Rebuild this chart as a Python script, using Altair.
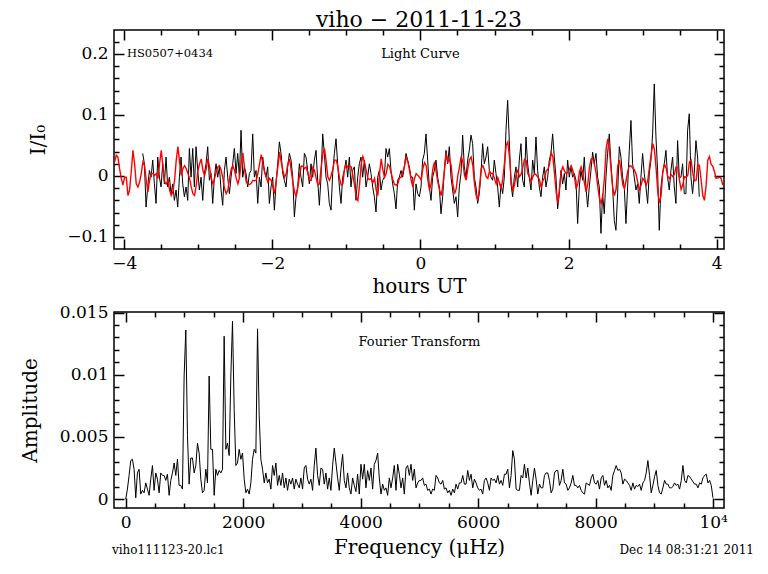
import altair as alt
import pandas as pd

FONT = "DejaVu Serif"
TITLE = "viho  \u2212  2011-11-23"
FOOTER_LEFT = "viho111123-20.lc1"
FOOTER_RIGHT = "Dec 14 08:31:21 2011"

# ---- light curve (hours UT, values in units of 0.001) ----
LC_DT = 0.0225
BLACK_T0 = -3.75
BLACK_MILLI = [
    37, 20, -51, -18, 9, -2, 26, -13, -45, 31, -2, -18, 20, -13, 31, -18, -2, -29, -13, -40,
    -23, -51, -2, 31, -13, -34, -18, -40, 45, -2, 45, -18, 48, 9, -23, -2, -40, 4, 20, 48,
    -7, 4, -45, -2, 20, -2, 15, -23, -48, 9, 31, -2, -29, -2, 20, 45, 4, 37, -2, 75,
    -2, 15, 4, -18, 4, 9, 69, -2, 9, -45, -2, -18, 31, 9, -2, 15, -45,
    -18, -2, -56, -13, 20, 56, 37, 4, -7, -18, 15, 37, 26, -2, -67, -34, -18, 20, -2, -18,
    37, 31, 9, -13, 20, -2, 26, 42, -7, -48, -2, 69, 37, -2, -13, -45, -56, 4, 37, 61,
    20, -18, -45, -2, 9, 26, -2, 31, -18, 9, 15, -40, -2, 20, 31, -2, 26, -18, -2, 20,
    4, -18, -34, -59, -2, 9, -23, -7, -2, 45, 31, 45, 9, -13, -29, -54, -7, -2, 9, -2,
    15, 37, 26, 15, -2, -2, -56, -13, -29, -34, -18,
    26, 37, 69, 26, -18, -40, -2, 9, 26, -2, -18, -62, -34, 9, 42, 20, 48, -2, -23, -45,
    -34, -67, -18, 4, 67, 15, -2, 26, 42, 67, 53, -2, -18, -45, -29, 4, 53, 20, 31, 48,
    9, -2, -7, 26, 4, -18, -51, -13, -29, -2, 75, 124, 58, -13, -34, -2, 15, -18, 26, 53,
    -7, -18, 64, 20, -2, -23, 26, 4, 64, 9, -18, -34, -2, 15, -18, -2, 26, 37, 69, 31,
    -2, -54, -29, 9, -13, 4, -23, 26, -2, 15, -2, 4,
    -7, -78, -18, 9, -7, 31, -18, -51, -18, 9, 39, 20, 37, -2, -18, -94, -29, -62, -2, 37,
    69, 20, -18, -73, -89, -29, 48, 31, -2, -18, -78, -18, 42, 91, 20, -2, -23, -13, -45, -2,
    37, 4, -18, -45, 4, 26, 69, 151, 64, 9, -89, -18, 4, 20, 42, -2, -23, 9, 31, -18,
    -45, 58, -2, -2, 20, -29, -29, 75, 102, -2, -29, 4, 58, 31, -34,
]
RED_T0 = -4.13
RED_MILLI = [
    23, 34, 31, 12, -4, -15, -2, -2, -32, -23, 7, 42, 20, -13, -18, -10, 4, 23, 17, -7,
    -26, -7, 4, 4, 1, 4, -4, 20, 42, 17, -10, -13, -7, -23, -32, -26, -7, 26, 48, 23,
    1, 12, 17, 12, 4, -4, -18, -29, -32, -15, 9, 20, 28, 9, 1, 12, 28, 15, -4, -13,
    -4, 7, 15, 17, 9, -4, -21, -29, -23, -4, 12, 17, 9, -4, -13, -2, 23, 38, 12, -10,
    -13, -14, -12, -7, -8, -7, 4, 20, 35, 20, 7, -2, -10,
    -4, -7, -18, -29, -7, 15, 39, 23, 9, -2, 4, 20, 28, 9, -10, -26, -34, -18, 1, 16,
    16, 12, 15, 4, -7, -7, 14, 9, -4, -15, -13, 15, 37, 45, 23, -2, -7, 1, 12, 26,
    26, 15, -4, -15, -13, 12, 19, 14, 16, 15, 1, -15, -34, -40, -15, 20, 32, 23, 9, -4,
    -6, -4, -11, -4, -23, -32, 4, 28, 10, -2, 4, 19, 16, 4, -6, -14, -15, -13, -3, -2,
    7, 16, 32, 23, 9, -7, -18, -4, 4, 1, -2, -7,
    12, 22, 17, -7, -23, -12, 12, 23, 7, -10, -23, -32, -15, 10, 37, 23, 28, 17, -13, -29,
    -21, 1, 15, 32, 23, 1, -7, 12, 27, 31, 17, -13, -32, -40, -18, 12, 17, 10, -1, -4,
    8, 4, 4, -4, -13, -3, -12, -21, -4, 21, 50, 56, 31, -7, -25, -14, 3, 9, -1, 3,
    14, 27, 25, 4, -2, -10, -1, 4, 2, -2, -6, -19, -8, -3, 8, 11, 19, 38, 32, 4,
    -26, -45, -21, 7, 15, 8, 4, 6, 11, 17, 9, -2,
    -21, -13, 7, 15, 5, -12, -26, -13, 14, 28, 28, 19, 5, -18, -37, -45, -32, -2, 45, 61,
    42, 9, -21, -32, -21, 17, 26, 7, -15, -21, -7, 8, 17, 16, 13, 10, 3, -11, -22, -15,
    -4, -8, -15, -7, 15, 35, 53, 43, 12, -26, -44, -32, 7, 19, 13, -1, -4, 2, -1, 3,
    15, 14, -7, -22, -14, -1, -2, 1, 23, 26, 5, -8, -7, 19, 17, -7, -32, -40, -15, 26,
    32, 19, 16, 7, -4, -3, -2, -4, -15,
]

# ---- Fourier transform (microHz, amplitude in units of 1e-4) ----
FT_DF = 28.4
FT_E4 = [
    0, 8, 19, 31, 32, 24, 1, 21, 24, 4, 7, 5, 13, 8, 3, 16, 27, 7, 21, 16,
    5, 21, 19, 19, 15, 20, 3, 15, 21, 29, 19, 32, 11, 11, 8, 99, 136, 51, 12, 33,
    33, 21, 27, 45, 37, 16, 5, 7, 24, 13, 99, 40, 40, 3, 24, 19, 23, 21, 24, 131,
    40, 45, 35, 99, 143, 72, 27, 29, 40, 32, 37, 16, 5, 8, 4, 13, 32, 40, 37, 137,
    67, 32, 24, 13, 21, 13, 16, 8, 27, 19, 29, 11, 19, 11, 21, 9, 17, 7, 16, 12,
    17, 8, 16, 12, 9, 17, 8, 25, 27, 16, 12, 16, 7, 27, 41, 19, 11, 25, 24, 12,
    21, 8, 17, 7, 27, 41, 29, 17, 7, 24, 36, 15, 9, 21, 9, 4, 17, 11, 6, 20,
    4, 28, 16, 28, 9, 23, 15, 25, 8, 28, 31, 37, 17, 4, 12, 7, 9, 3, 17, 9,
    17, 27, 7, 28, 20, 9, 17, 4, 25, 27, 19, 28, 15, 24, 9,
    13, 15, 15, 17, 11, 12, 7, 8, 4, 8, 7, 19, 17, 13, 12, 15, 8, 9, 5, 7,
    3, 8, 5, 12, 8, 13, 13, 19, 12, 12, 23, 15, 20, 9, 16, 13, 9, 7, 8, 4,
    15, 17, 13, 7, 17, 15, 16, 13, 19, 12, 15, 11, 20, 20, 24, 9, 19, 39, 32, 8,
    7, 7, 19, 17, 28, 17, 25, 13, 3, 15, 25, 16, 4, 12, 9, 9, 19, 21, 21, 15,
    5, 8, 21, 23, 23, 11, 15, 24, 13, 12, 7, 9, 13, 19, 11, 11, 9, 11, 7, 5,
    4, 13, 12, 11, 17, 20, 13, 12, 15, 8, 17, 19, 11, 15, 9, 11, 7, 19, 23, 27,
    23, 24, 21, 12, 16, 15, 13, 11, 7, 13, 8, 11, 10, 12, 7, 13, 15, 21, 31, 19,
    5, 11, 18, 23, 11, 5, 4, 9, 15, 12, 12, 9, 9, 10, 13, 11, 12, 8, 15, 27,
    15, 13, 19, 18, 16, 14, 12, 12, 9, 13, 12, 17, 19, 20, 13, 15, 11, 1,
]

# ---- axes ----
LC_X_DOMAIN = [-4.138, 4.099]
LC_Y_DOMAIN = [-0.1197, 0.2393]
FT_X_DOMAIN = [-200, 10185]
FT_Y_DOMAIN = [-0.00072, 0.01505]
LC_X_MAJOR = [-4, -2, 0, 2, 4]
LC_X_MINOR = [-3.5, -3, -2.5, -1.5, -1, -0.5, 0.5, 1, 1.5, 2.5, 3, 3.5]
LC_Y_MAJOR = [-0.1, 0, 0.1, 0.2]
LC_Y_MINOR = [-0.08, -0.06, -0.04, -0.02, 0.02, 0.04, 0.06, 0.08, 0.12, 0.14, 0.16, 0.18, 0.22]
FT_X_MAJOR = [0, 2000, 4000, 6000, 8000, 10000]
FT_X_MINOR = [500, 1000, 1500, 2500, 3000, 3500, 4500, 5000, 5500, 6500, 7000, 7500, 8500, 9000, 9500]
FT_Y_MAJOR = [0, 0.005, 0.01, 0.015]
FT_Y_MINOR = [0.001, 0.002, 0.003, 0.004, 0.006, 0.007, 0.008, 0.009, 0.011, 0.012, 0.013, 0.014]

W = 610
H1 = 219
H2 = 196
MAJ = 10
MIN = 5

black_df = pd.DataFrame({"t": [BLACK_T0 + i * LC_DT for i in range(len(BLACK_MILLI))],
                         "v": [m / 1000 for m in BLACK_MILLI]})
red_df = pd.DataFrame({"t": [RED_T0 + i * LC_DT for i in range(len(RED_MILLI))],
                       "v": [m / 1000 for m in RED_MILLI]})
ft_df = pd.DataFrame({"f": [i * FT_DF for i in range(len(FT_E4))],
                      "a": [a / 10000 for a in FT_E4]})


def sc(dom):
    return alt.Scale(domain=dom, nice=False, zero=False)


def tick_axis(orient, values, size):
    # inward ticks: pull the axis line into the plot by the tick length
    return alt.Axis(orient=orient, values=values, tickSize=size, offset=-size, labels=False,
                    domain=False, grid=False, ticks=True, tickColor="black", tickWidth=1.5,
                    title="")


def tick_axes(xmaj, xmin, ymaj, ymin):
    return [
        (tick_axis("bottom", xmaj, MAJ), tick_axis("left", ymaj, MAJ)),
        (tick_axis("bottom", xmin, MIN), tick_axis("left", ymin, MIN)),
        (tick_axis("top", xmaj, MAJ), tick_axis("right", ymaj, MAJ)),
        (tick_axis("top", xmin, MIN), tick_axis("right", ymin, MIN)),
    ]


def carrier_layers(xdom, ydom, axes_pairs):
    out = []
    df = pd.DataFrame({"cx": [sum(xdom) / 2], "cy": [sum(ydom) / 2]})
    for xa, ya in axes_pairs:
        out.append(alt.Chart(df).mark_point(opacity=0, size=1).encode(
            x=alt.X("cx:Q", scale=sc(xdom), axis=xa),
            y=alt.Y("cy:Q", scale=sc(ydom), axis=ya)))
    return out


# ---- top panel ----
LC_XAX = alt.Axis(orient="bottom", values=LC_X_MAJOR, format="~g", ticks=False, domain=False, grid=False,
                  labelPadding=6, labelFlush=False, title="hours UT",
                  titleY=37, titleBaseline="middle")
LC_YAX = alt.Axis(orient="left", values=LC_Y_MAJOR, format="~g", ticks=False, domain=False, grid=False,
                  labelPadding=6, labelFlush=False, title="I/I\u2080",
                  titleX=-76, titleY=H1 / 2, titleBaseline="middle", titleAngle=270)
lc_x = alt.X("t:Q", scale=sc(LC_X_DOMAIN), axis=LC_XAX)
lc_y = alt.Y("v:Q", scale=sc(LC_Y_DOMAIN), axis=LC_YAX)
black_line = alt.Chart(black_df).mark_line(color="black", strokeWidth=1, clip=True).encode(x=lc_x, y=lc_y)
red_line = alt.Chart(red_df).mark_line(color="#ff0000", strokeWidth=1.4, clip=True).encode(
    x=alt.X("t:Q", scale=sc(LC_X_DOMAIN), axis=None), y=alt.Y("v:Q", scale=sc(LC_Y_DOMAIN), axis=None))

lc_notes = pd.DataFrame({"t": [-3.99, 0.0], "v": [0.2, 0.2], "s": ["HS0507+0434", "Light Curve"]})
nx = alt.X("t:Q", scale=sc(LC_X_DOMAIN), axis=None)
ny = alt.Y("v:Q", scale=sc(LC_Y_DOMAIN), axis=None)
note1 = alt.Chart(lc_notes.iloc[[0]]).mark_text(font=FONT, fontSize=11.5, align="left", baseline="middle",
                                               color="black", dx=2).encode(x=nx, y=ny, text="s:N")
note2 = alt.Chart(lc_notes.iloc[[1]]).mark_text(font=FONT, fontSize=13, align="center", baseline="middle",
                                               color="black").encode(x=nx, y=ny, text="s:N")

top = alt.layer(
    black_line, red_line, note1, note2,
    *carrier_layers(LC_X_DOMAIN, LC_Y_DOMAIN, tick_axes(LC_X_MAJOR, LC_X_MINOR, LC_Y_MAJOR, LC_Y_MINOR)),
).resolve_axis(x="independent", y="independent").properties(
    width=W, height=H1,
    title=alt.TitleParams(TITLE, font=FONT, fontSize=22, fontWeight="normal", color="black",
                          anchor="middle", offset=-3))

# ---- bottom panel ----
FT_XAX = alt.Axis(orient="bottom", values=FT_X_MAJOR, ticks=False, domain=False, grid=False, labelPadding=6,
                  labelFlush=False,
                  labelExpr="datum.value >= 10000 ? '10\u2074' : format(datum.value, 'd')",
                  title="Frequency (\u03bcHz)", titleY=39, titleBaseline="middle")
FT_YAX = alt.Axis(orient="left", values=FT_Y_MAJOR, format="~g", ticks=False, domain=False, grid=False,
                  labelPadding=6, labelFlush=False, title="Amplitude",
                  titleX=-84, titleY=H2 / 2, titleBaseline="middle", titleAngle=270)
ft_x = alt.X("f:Q", scale=sc(FT_X_DOMAIN), axis=FT_XAX)
ft_y = alt.Y("a:Q", scale=sc(FT_Y_DOMAIN), axis=FT_YAX)
ft_line = alt.Chart(ft_df).mark_line(color="black", strokeWidth=1, clip=True).encode(x=ft_x, y=ft_y)

ft_note_df = pd.DataFrame({"f": [5000], "a": [0.01265], "s": ["Fourier Transform"]})
ft_note = alt.Chart(ft_note_df).mark_text(font=FONT, fontSize=13, align="center", baseline="middle",
                                          color="black").encode(
    x=alt.X("f:Q", scale=sc(FT_X_DOMAIN), axis=None), y=alt.Y("a:Q", scale=sc(FT_Y_DOMAIN), axis=None),
    text="s:N")

foot_l = alt.Chart(pd.DataFrame({"s": [FOOTER_LEFT]})).mark_text(
    font=FONT, fontSize=12, align="left", baseline="middle", color="black").encode(
    text="s:N", x=alt.value(-2), y=alt.value(H2 + 42))
foot_r = alt.Chart(pd.DataFrame({"s": [FOOTER_RIGHT]})).mark_text(
    font=FONT, fontSize=12, align="right", baseline="middle", color="black").encode(
    text="s:N", x=alt.value(W + 30), y=alt.value(H2 + 42))

bottom = alt.layer(
    ft_line, ft_note, foot_l, foot_r,
    *carrier_layers(FT_X_DOMAIN, FT_Y_DOMAIN, tick_axes(FT_X_MAJOR, FT_X_MINOR, FT_Y_MAJOR, FT_Y_MINOR)),
).resolve_axis(x="independent", y="independent").properties(width=W, height=H2)

chart = alt.vconcat(top, bottom, spacing=5).properties(
    padding={"left": 11, "top": 0, "right": 5, "bottom": 5}
).configure_view(stroke="black", strokeWidth=1.5).configure_axis(
    labelFont=FONT, titleFont=FONT, labelFontSize=17, titleFontSize=20,
    labelColor="black", titleColor="black", titleFontWeight="normal", labelOverlap=False
)

chart.save("out.html", embed_options={"renderer": "svg", "actions": False})
